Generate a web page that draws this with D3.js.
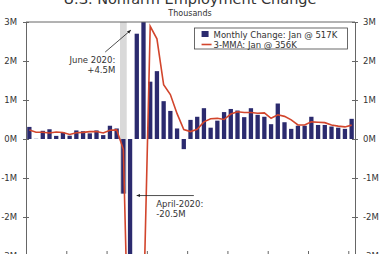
<!DOCTYPE html>
<html>
<head>
<meta charset="utf-8">
<script src="https://cdn.jsdelivr.net/npm/d3@7"></script>
<style>
  html, body { margin: 0; padding: 0; background: #fff; }
  #chart { width: 380px; height: 254px; overflow: hidden; }
  text { font-family: "DejaVu Sans", Verdana, sans-serif; fill: #333; }
</style>
</head>
<body>
<div id="chart"></div>
<script>
// Months shown, Jan 2019 .. Jan 2023
const months = [
  'Jan-19', 'Feb-19', 'Mar-19', 'Apr-19', 'May-19', 'Jun-19', 'Jul-19', 'Aug-19', 'Sep-19', 'Oct-19', 'Nov-19', 'Dec-19',
  'Jan-20', 'Feb-20', 'Mar-20', 'Apr-20', 'May-20', 'Jun-20', 'Jul-20', 'Aug-20', 'Sep-20', 'Oct-20', 'Nov-20', 'Dec-20',
  'Jan-21', 'Feb-21', 'Mar-21', 'Apr-21', 'May-21', 'Jun-21', 'Jul-21', 'Aug-21', 'Sep-21', 'Oct-21', 'Nov-21', 'Dec-21',
  'Jan-22', 'Feb-22', 'Mar-22', 'Apr-22', 'May-22', 'Jun-22', 'Jul-22', 'Aug-22', 'Sep-22', 'Oct-22', 'Nov-22', 'Dec-22',
  'Jan-23',
];

// Monthly change, thousands
const monthlyChange = [
  310, 5, 210, 250, 80, 170, 85, 220, 200, 145, 220, 100,
  340, 270, -1400, -20500, 2700, 4500, 1470, 1740, 970, 720, 270, -260,
  490, 570, 790, 290, 470, 690, 770, 730, 560, 790, 620, 570,
  380, 910, 430, 260, 340, 340, 570, 360, 360, 320, 290, 260,
  517,
];

// 3-month moving average, thousands
const mma3 = [
  230, 175, 175, 155, 180, 165, 115, 160, 170, 190, 190, 155,
  225, 235, -265, -7200, -6400, -4400, 2890, 2570, 1390, 1140, 650, 240,
  190, 250, 440, 520, 530, 500, 640, 700, 680, 680, 660, 670,
  530, 620, 580, 490, 360, 360, 440, 430, 420, 360, 330, 310,
  356,
];

const yTicks = [-3000, -2000, -1000, 0, 1000, 2000, 3000];
const xTickMonths = ['Jul-19', 'Jan-20', 'Jul-20', 'Jan-21', 'Jul-21', 'Jan-22', 'Jul-22', 'Jan-23'];
const recessionMonth = 'Mar-20';

const legendItems = [
  { label: 'Monthly Change: Jan @ 517K', type: 'bar' },
  { label: '3-MMA: Jan @ 356K', type: 'line' },
];

const annotations = [
  { lines: ['June 2020:', '+4.5M'], anchor: 'end', tx: 13.3, ty: 1950, from: [11.8, 2230], to: [15.6, 2790] },
  { lines: ['April-2020:', '-20.5M'], anchor: 'start', tx: 19.4, ty: -1740, from: [25.0, -1450], to: [16.5, -1450] },
];

const barColor = '#2b2a6e';
const lineColor = '#d2452c';

const W = 380;
const H = 254;
const margin = { top: 22, right: 25, bottom: -2, left: 26 };
const width = W - margin.left - margin.right;
const height = H - margin.top - margin.bottom;

const svg = d3.select('#chart').append('svg')
  .attr('width', W)
  .attr('height', H);

const data = months.map((m, i) => ({ month: m, value: monthlyChange[i], avg: mma3[i] }));

const x = d3.scaleBand()
  .domain(months)
  .range([0, width])
  .paddingInner(0.36)
  .paddingOuter(0.18);
const xi = d3.scaleLinear().domain([0, months.length]).range([0, width]);
const y = d3.scaleLinear().domain([-3000, 3000]).range([height, 0]);

svg.append('defs').append('clipPath')
  .attr('id', 'plot-clip')
  .append('rect')
  .attr('width', width)
  .attr('height', height);

svg.append('defs').append('marker')
  .attr('id', 'arrow')
  .attr('viewBox', '0 0 10 10')
  .attr('refX', 9)
  .attr('refY', 5)
  .attr('markerWidth', 5)
  .attr('markerHeight', 5)
  .attr('orient', 'auto')
  .append('path')
  .attr('d', 'M0,1 L10,5 L0,9 z')
  .attr('fill', '#222');

const g = svg.append('g')
  .attr('transform', `translate(${margin.left},${margin.top})`);

// title (cut off at the top, as in the source)
svg.append('text')
  .attr('x', W / 2)
  .attr('y', 4)
  .attr('text-anchor', 'middle')
  .style('font-size', '14.5px')
  .text('U.S. Nonfarm Employment Change');

svg.append('text')
  .attr('x', W / 2)
  .attr('y', 15.5)
  .attr('text-anchor', 'middle')
  .style('font-size', '8px')
  .text('Thousands');

const plot = g.append('g').attr('clip-path', 'url(#plot-clip)');

// recession shading
const rm = data.find(d => d.month === recessionMonth);
plot.append('rect')
  .attr('x', x(recessionMonth) - (x.step() - x.bandwidth()) / 2)
  .attr('width', x.step())
  .attr('y', y(3000))
  .attr('height', y(rm.value) - y(3000))
  .attr('fill', '#d9d9d9');

plot.selectAll('.bar')
  .data(data)
  .enter().append('rect')
  .attr('class', 'bar')
  .attr('x', d => x(d.month))
  .attr('width', x.bandwidth())
  .attr('y', d => y(Math.max(0, d.value)))
  .attr('height', d => Math.abs(y(d.value) - y(0)))
  .attr('fill', barColor);

plot.append('path')
  .datum(data)
  .attr('fill', 'none')
  .attr('stroke', lineColor)
  .attr('stroke-width', 1.6)
  .attr('d', d3.line()
    .x(d => x(d.month) + x.bandwidth() / 2)
    .y(d => y(d.avg)));

// frame
const frameColor = '#666';
g.append('line').attr('x1', 0).attr('x2', width).attr('y1', 0).attr('y2', 0)
  .attr('stroke', frameColor);

const leftAxis = g.append('g')
  .call(d3.axisLeft(y).tickValues(yTicks).tickSize(3).tickPadding(6)
    .tickFormat(d => `${d / 1000}M`));
const rightAxis = g.append('g')
  .attr('transform', `translate(${width},0)`)
  .call(d3.axisRight(y).tickValues(yTicks).tickSize(3).tickPadding(5)
    .tickFormat(d => `${d / 1000}M`));

[leftAxis, rightAxis].forEach((ax) => {
  ax.select('.domain').attr('stroke', frameColor);
  ax.selectAll('.tick line').attr('stroke', frameColor)
    .attr('x1', -3).attr('x2', 3);
  ax.selectAll('.tick text')
    .style('font-size', '8.5px')
    .attr('fill', '#333');
});

const bottomAxis = g.append('g')
  .attr('transform', `translate(0,${height})`)
  .call(d3.axisBottom(xi)
    .tickValues(xTickMonths.map(m => months.indexOf(m)))
    .tickSize(-5)
    .tickFormat(''));
bottomAxis.select('.domain').attr('stroke', frameColor);
bottomAxis.selectAll('.tick line').attr('stroke', frameColor);

// legend
const lg = g.append('g')
  .attr('transform', `translate(${x('Feb-21') - 0.5},6)`);
lg.append('rect')
  .attr('width', 153)
  .attr('height', 21)
  .attr('fill', '#fff')
  .attr('stroke', '#444')
  .attr('stroke-width', 0.8);
legendItems.forEach((item, i) => {
  const row = lg.append('g').attr('transform', `translate(7,${5 + i * 10})`);
  if (item.type === 'bar') {
    row.append('rect').attr('x', 0).attr('y', -2).attr('width', 7).attr('height', 6)
      .attr('fill', barColor);
  } else {
    row.append('line').attr('x1', 0).attr('x2', 10).attr('y1', 1.5).attr('y2', 1.5)
      .attr('stroke', lineColor).attr('stroke-width', 1.6);
  }
  row.append('text')
    .attr('x', 12)
    .attr('y', 4.5)
    .style('font-size', '8.5px')
    .text(item.label);
});

// annotations
annotations.forEach((a) => {
  const t = g.append('text')
    .attr('text-anchor', a.anchor)
    .style('font-size', '8.5px');
  a.lines.forEach((l, i) => {
    t.append('tspan')
      .attr('x', xi(a.tx))
      .attr('y', y(a.ty) + i * 10.5)
      .text(l);
  });
  g.append('line')
    .attr('x1', xi(a.from[0]))
    .attr('y1', y(a.from[1]))
    .attr('x2', xi(a.to[0]))
    .attr('y2', y(a.to[1]))
    .attr('stroke', '#222')
    .attr('stroke-width', 0.8)
    .attr('marker-end', 'url(#arrow)');
});
</script>
</body>
</html>
